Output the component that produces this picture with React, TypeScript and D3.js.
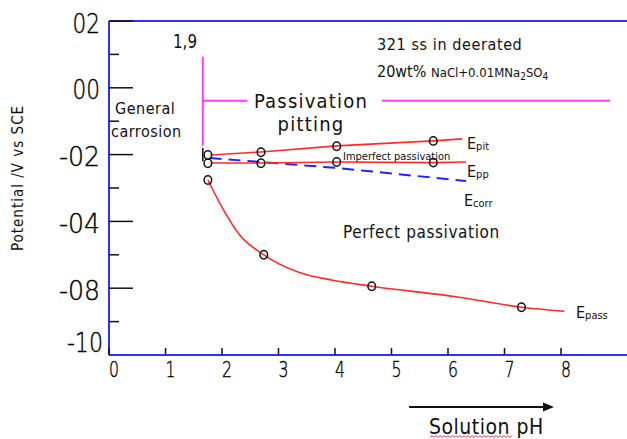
import { scaleLinear, line, curveMonotoneX } from 'd3'

const X_TICKS = [0, 1, 2, 3, 4, 5, 6, 7, 8]
const Y_TICKS = [0.2, 0, -0.2, -0.4, -0.6, -0.8]
const Y_TICK_LABELS = ['02', '00', '-02', '-04', '-08', '-10']
const Y_MINOR = [0.1, -0.1, -0.3, -0.5, -0.7]

// pH, potential
const EPIT_LINE: [number, number][] = [[1.8, -0.201], [2.69, -0.192], [4.03, -0.174], [5.74, -0.159], [6.25, -0.153]]
const EPIT_MARKS: [number, number][] = [[1.75, -0.201], [2.69, -0.193], [4.03, -0.175], [5.74, -0.159]]
const EPP_LINE: [number, number][] = [[1.8, -0.225], [2.69, -0.225], [4.03, -0.222], [5.74, -0.224], [6.32, -0.222]]
const EPP_MARKS: [number, number][] = [[1.75, -0.226], [2.69, -0.226], [4.03, -0.222], [5.74, -0.224]]
const ECORR_LINE: [number, number][] = [[1.78, -0.21], [4.03, -0.24], [6.32, -0.279]]
const EPASS_LINE: [number, number][] = [
  [1.75, -0.276], [1.96, -0.345], [2.31, -0.44], [2.74, -0.5], [3.37, -0.553],
  [3.96, -0.576], [4.65, -0.594], [6.2, -0.627], [7.3, -0.657], [8.06, -0.669],
]
const EPASS_MARKS: [number, number][] = [[1.75, -0.276], [2.74, -0.5], [4.65, -0.594], [7.3, -0.657]]

const BOUNDARY_PH = 1.66
const BOUNDARY_TOP = 0.093
const BOUNDARY_BOTTOM = -0.174
const BOUNDARY_TICK_END = -0.22
const PASSIVATION_Y = -0.039
const PASSIVATION_GAP = [2.45, 4.83]
const PASSIVATION_END = 8.87

const FONT = "'DejaVu Sans', sans-serif"
const AXIS_BLUE = '#2f2fff'
const RED = '#ff2a2a'
const MAGENTA = '#ff3cff'

export default function App() {
  const width = 627
  const height = 439
  const x = scaleLinear().domain([0, 8]).range([109, 561])
  const y = scaleLinear().domain([0.2, -0.8]).range([21, 355])
  const path = line<[number, number]>().x((d) => x(d[0])).y((d) => y(d[1]))
  const smooth = line<[number, number]>().x((d) => x(d[0])).y((d) => y(d[1])).curve(curveMonotoneX)

  const marks = (pts: [number, number][], key: string) =>
    pts.map((d, i) => (
      <ellipse key={`${key}-${i}`} cx={x(d[0])} cy={y(d[1])} rx={3.8} ry={4.2} fill="none" stroke="#111" strokeWidth={1.5} />
    ))

  const txt = { fontFamily: FONT, fontStretch: 'condensed' as const, fill: '#111' }
  const thin = { fontFamily: FONT, fontStretch: 'condensed' as const, fontWeight: 300, fill: '#000' }

  return (
    <>
      <style>{`body{margin:0}`}</style>
      <svg width={width} height={height} style={{ display: 'block', background: '#fff' }}>
        {/* frame */}
        <line x1={width} y1={y(0.2)} x2={x(0)} y2={y(0.2)} stroke={AXIS_BLUE} strokeWidth={2} />
        <line x1={x(0)} y1={y(0.2)} x2={x(0)} y2={y(-0.8)} stroke={AXIS_BLUE} strokeWidth={2} />
        <line x1={x(0)} y1={y(-0.8)} x2={width} y2={y(-0.8)} stroke={AXIS_BLUE} strokeWidth={2} />

        {Y_TICKS.slice(0, -1).map((t) => (
          <line key={`yt-${t}`} x1={x(0)} x2={x(0) + 24} y1={y(t)} y2={y(t)} stroke="#111" strokeWidth={1.5} />
        ))}
        {Y_MINOR.map((t) => (
          <line key={`ym-${t}`} x1={x(0)} x2={x(0) + 10} y1={y(t)} y2={y(t)} stroke="#111" strokeWidth={1.5} />
        ))}
        {Y_TICKS.map((t, i) => {
          const last = i === Y_TICKS.length - 1
          const label = Y_TICK_LABELS[i]
          const w = label.length * 13.7 - (last ? 5 : 0)
          const right = last ? 103 : 100
          return (
            <text
              key={`yl-${t}`}
              x={right - w}
              y={y(t) + (last ? -13 : 2)}
              dominantBaseline="central"
              fontSize={27}
              textLength={w}
              lengthAdjust="spacingAndGlyphs"
              stroke="#000"
              strokeWidth={0.4}
              {...thin}
            >
              {label}
            </text>
          )
        })}

        {X_TICKS.map((t) => (
          <g key={`xt-${t}`}>
            <line x1={x(t)} x2={x(t)} y1={y(-0.8) - 7} y2={y(-0.8)} stroke="#111" strokeWidth={1.5} />
            <text
              x={x(t)}
              y={y(-0.8) + 14}
              dominantBaseline="central"
              fontSize={22}
              textLength={10}
              lengthAdjust="spacingAndGlyphs"
              stroke="#000"
              strokeWidth={0.4}
              {...thin}
            >
              {t}
            </text>
          </g>
        ))}

        <text
          transform={`translate(23,178) rotate(-90)`}
          textAnchor="middle"
          fontSize={15}
          letterSpacing={1}
          {...txt}
        >
          Potential /V vs SCE
        </text>

        {/* boundary annotations */}
        <line x1={x(BOUNDARY_PH)} x2={x(BOUNDARY_PH)} y1={y(BOUNDARY_TOP)} y2={y(BOUNDARY_BOTTOM)} stroke={MAGENTA} strokeWidth={2} />
        <line x1={x(BOUNDARY_PH)} x2={x(BOUNDARY_PH)} y1={y(BOUNDARY_BOTTOM) + 2} y2={y(BOUNDARY_TICK_END)} stroke="#111" strokeWidth={1.5} />
        <line x1={x(BOUNDARY_PH)} x2={x(PASSIVATION_GAP[0])} y1={y(PASSIVATION_Y)} y2={y(PASSIVATION_Y)} stroke={MAGENTA} strokeWidth={2} />
        <line x1={x(PASSIVATION_GAP[1])} x2={x(PASSIVATION_END)} y1={y(PASSIVATION_Y)} y2={y(PASSIVATION_Y)} stroke={MAGENTA} strokeWidth={2} />

        <text x={173} y={48} fontSize={20} textLength={24} lengthAdjust="spacingAndGlyphs" {...txt}>1,9</text>
        <text x={115} y={114} fontSize={16} letterSpacing={0.5} {...txt}>General</text>
        <text x={111} y={137} fontSize={16} letterSpacing={0.5} {...txt}>carrosion</text>
        <text x={311} y={108} textAnchor="middle" fontSize={20} letterSpacing={1.2} {...txt}>Passivation</text>
        <text x={311} y={131} textAnchor="middle" fontSize={20} letterSpacing={1.2} {...txt}>pitting</text>

        <text x={377} y={50} fontSize={16} letterSpacing={0.6} {...txt}>321 ss in deerated</text>
        <text x={377} y={77} fontSize={16} {...txt}>
          20wt%{' '}
          <tspan fontSize={13}>NaCl+0.01MNa</tspan>
          <tspan fontSize={10} dy={3}>2</tspan>
          <tspan fontSize={13} dy={-3}>SO</tspan>
          <tspan fontSize={10} dy={3}>4</tspan>
        </text>

        {/* curves */}
        <path d={path(ECORR_LINE) ?? ''} fill="none" stroke="#2222ff" strokeWidth={2} strokeDasharray="12 7" />
        <path d={path(EPIT_LINE) ?? ''} fill="none" stroke={RED} strokeWidth={1.6} />
        <path d={path(EPP_LINE) ?? ''} fill="none" stroke={RED} strokeWidth={1.6} />
        <path d={smooth(EPASS_LINE) ?? ''} fill="none" stroke={RED} strokeWidth={1.6} />
        {marks(EPIT_MARKS, 'pit')}
        {marks(EPP_MARKS, 'pp')}
        {marks(EPASS_MARKS, 'pass')}

        <text x={343} y={160} fontSize={11} {...txt}>Imperfect passivation</text>
        <text x={343} y={238} fontSize={17} letterSpacing={0.6} {...txt}>Perfect passivation</text>

        <text x={467} y={149} fontSize={16} {...txt}>
          E<tspan fontSize={11} dy={1}>pit</tspan>
        </text>
        <text x={467} y={177} fontSize={16} {...txt}>
          E<tspan fontSize={11} dy={1}>pp</tspan>
        </text>
        <text x={464} y={206} fontSize={16} {...txt}>
          E<tspan fontSize={11} dy={1}>corr</tspan>
        </text>
        <text x={576} y={318} fontSize={16} {...txt}>
          E<tspan fontSize={11} dy={1}>pass</tspan>
        </text>

        {/* x-axis title */}
        <line x1={409} x2={544} y1={407} y2={407} stroke="#111" strokeWidth={2} />
        <path d="M543,402.5 L554,407 L543,411.5 Z" fill="#111" />
        <text x={429} y={434} fontSize={21} letterSpacing={0.5} {...txt}>Solution pH</text>
        <path
          d="M430,437.5 l2,-2 l2,2 l2,-2 l2,2 l2,-2 l2,2 l2,-2 l2,2 l2,-2 l2,2 l2,-2 l2,2 l2,-2 l2,2 l2,-2 l2,2 l2,-2 l2,2 l2,-2 l2,2 l2,-2 l2,2 l2,-2 l2,2 l2,-2 l2,2 l2,-2 l2,2 l2,-2 l2,2 l2,-2 l2,2 l2,-2 l2,2 l2,-2 l2,2 l2,-2 l2,2 l2,-2 l2,2 l2,-2"
          fill="none"
          stroke="#e03030"
          strokeWidth={1}
        />
      </svg>
    </>
  )
}
